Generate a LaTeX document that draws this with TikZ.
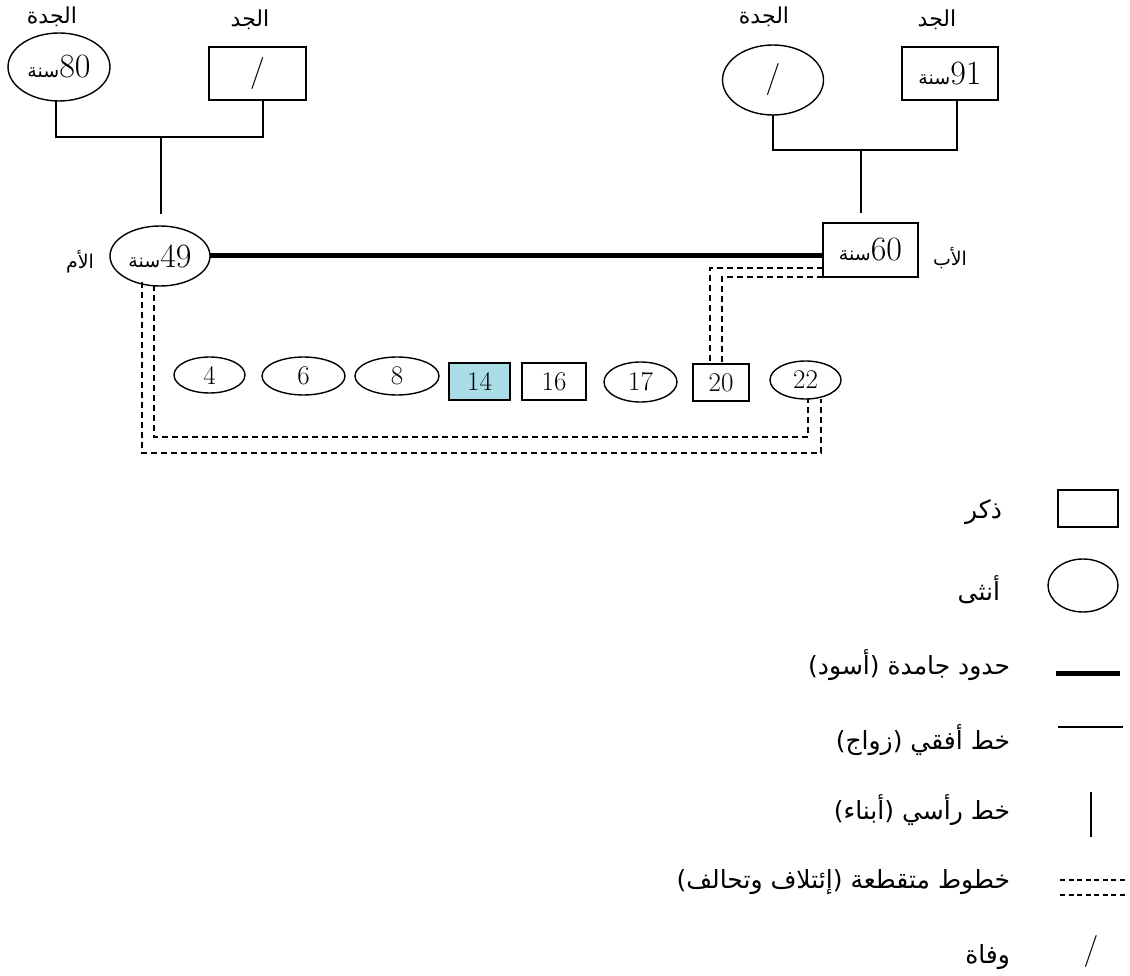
\documentclass[tikz,border=0pt]{standalone}
\usepackage{fontspec}
\newfontfamily\arabicfont[Script=Arabic]{DejaVu Sans}
\TeXXeTstate=1
\usetikzlibrary{shapes.geometric,calc}
\newcommand\ar[1]{{\arabicfont\beginR #1\endR}}
\newcommand\fs[1]{\fontsize{#1}{#1}\selectfont}
\definecolor{kidblue}{RGB}{170,221,230}
\begin{document}
\begin{tikzpicture}[x=1pt,y=-1pt,
  every node/.style={inner sep=0pt, outer sep=0pt},
  male/.style={draw, line width=1.4pt, rectangle},
  female/.style={draw, line width=1.4pt, ellipse},
  conn/.style={line width=1.4pt},
  mar/.style={line width=5pt},
  dsh/.style={line width=1.3pt, dash pattern=on 6pt off 4pt},
  legdsh/.style={line width=1.3pt, dash pattern=on 5pt off 3.5pt},
  lbl/.style={font=\fs{22}},
  side/.style={font=\fs{19}},
  legtxt/.style={anchor=east, font=\fs{25}},
  kid/.style={font=\fs{27}}
]
\useasboundingbox (0,0) rectangle (1130,976);

% grandparents
\node[female, minimum width=102pt, minimum height=68pt] (gmL) at (59,67) {\raisebox{-10pt}{\fs{19}\ar{سنة}}\raisebox{-10pt}{\fs{34}80}};
\node[male, minimum width=97pt, minimum height=53pt] (gfL) at (257.5,73.5) {\fs{32}/};
\node[female, minimum width=101pt, minimum height=70pt] (gmR) at (773,80) {\fs{32}/};
\node[male, minimum width=96pt, minimum height=53pt] (gfR) at (950,73.5) {\fs{19}\ar{سنة}\fs{34}91};

\node[lbl] (tgmL) at (52,17) {\ar{الجدة}};
\node[lbl] (tgfL) at (250,20) {\ar{الجد}};
\node[lbl] (tgmR) at (764,17) {\ar{الجدة}};
\node[lbl] (tgfR) at (937,20) {\ar{الجد}};

% parents
\node[female, minimum width=100pt, minimum height=60pt] (mother) at (160,256) {\fs{19}\ar{سنة}\fs{34}49};
\node[male, minimum width=95pt, minimum height=54pt] (father) at (870.5,250) {\fs{19}\ar{سنة}\fs{34}60};
\node[side] (tmother) at (80,262) {\ar{الأم}};
\node[side] (tfather) at (950,258) {\ar{الأب}};

% children
\node[female, kid, minimum width=71pt, minimum height=36pt] (c4) at (209.5,375) {4};
\node[female, kid, minimum width=83pt, minimum height=38pt] (c6) at (303.5,376) {6};
\node[female, kid, minimum width=84pt, minimum height=38pt] (c8) at (397,376) {8};
\node[male, kid, fill=kidblue, minimum width=61pt, minimum height=37pt] (c14) at (479.5,381.5) {14};
\node[male, kid, minimum width=64pt, minimum height=37pt] (c16) at (554,381.5) {16};
\node[female, kid, minimum width=73pt, minimum height=40pt] (c17) at (640.5,382) {17};
\node[male, kid, minimum width=56pt, minimum height=37pt] (c20) at (721,382.5) {20};
\node[female, kid, minimum width=71pt, minimum height=38pt] (c22) at (805.5,380) {22};

% left grandparents connectors
\coordinate (jL) at (161,137);
\draw[conn] (gmL.south -| 56,0) |- (jL);
\draw[conn] (jL) -| ([xshift=5.5pt]gfL.south);
\coordinate (mtop) at ([yshift=12pt]mother.north);
\draw[conn] (jL) -- (jL |- mtop);

% right grandparents connectors
\coordinate (jR) at (861,150);
\draw[conn] (gmR.south) |- (jR);
\draw[conn] (jR) -| ([xshift=7pt]gfR.south);
\coordinate (ftop) at ([yshift=10pt]father.north);
\draw[conn] (jR) -- (jR |- ftop);

% marriage
\draw[mar] (mother.east) -- (mother.east -| father.west);

% dashed alliances father - 20
\draw[dsh] ([yshift=-18pt]father.west) -| ([xshift=-11pt]c20.north);
\draw[dsh] (father.south west) -| ([xshift=1pt]c20.north);

% dashed alliances mother - 22
\coordinate (dO1) at (142,453);
\coordinate (dO2) at (821,453);
\coordinate (dI1) at (154,437);
\coordinate (dI2) at (808,437);
\draw[dsh] (142,282) -- (dO1) -- (dO2) -- (dO2 |- c22.south);
\draw[dsh] (154,285) -- (dI1) -- (dI2) -- (808,398.5);

% legend
\node[male, minimum width=60pt, minimum height=37pt] (lgM) at (1088,508.5) {};
\node[female, minimum width=70pt, minimum height=53pt] (lgF) at (1083,585.5) {};
\draw[mar] (1056,673) -- (1120,673);
\draw[conn] (1058,727) -- (1123,727);
\draw[conn] (1091,792) -- (1091,837);
\draw[legdsh] (1060,880) -- (1125,880);
\draw[legdsh] (1060,895) -- (1125,895);
\node[font=\fs{32}] (lgD) at (1091,951) {/};

\node[legtxt] (tM) at (1002,512) {\ar{ذكر}};
\node[legtxt] (tF) at (1000,590) {\ar{أنثى}};
\node[legtxt] (tB) at (1010,665) {\ar{حدود جامدة (أسود)}};
\node[legtxt] (tH) at (1010,740) {\ar{خط أفقي (زواج)}};
\node[legtxt] (tV) at (1010,810) {\ar{خط رأسي (أبناء)}};
\node[legtxt] (tDs) at (1010,882) {\ar{خطوط متقطعة (إئتلاف وتحالف)}};
\node[legtxt] (tDe) at (1010,957) {\ar{وفاة}};
\end{tikzpicture}
\end{document}
